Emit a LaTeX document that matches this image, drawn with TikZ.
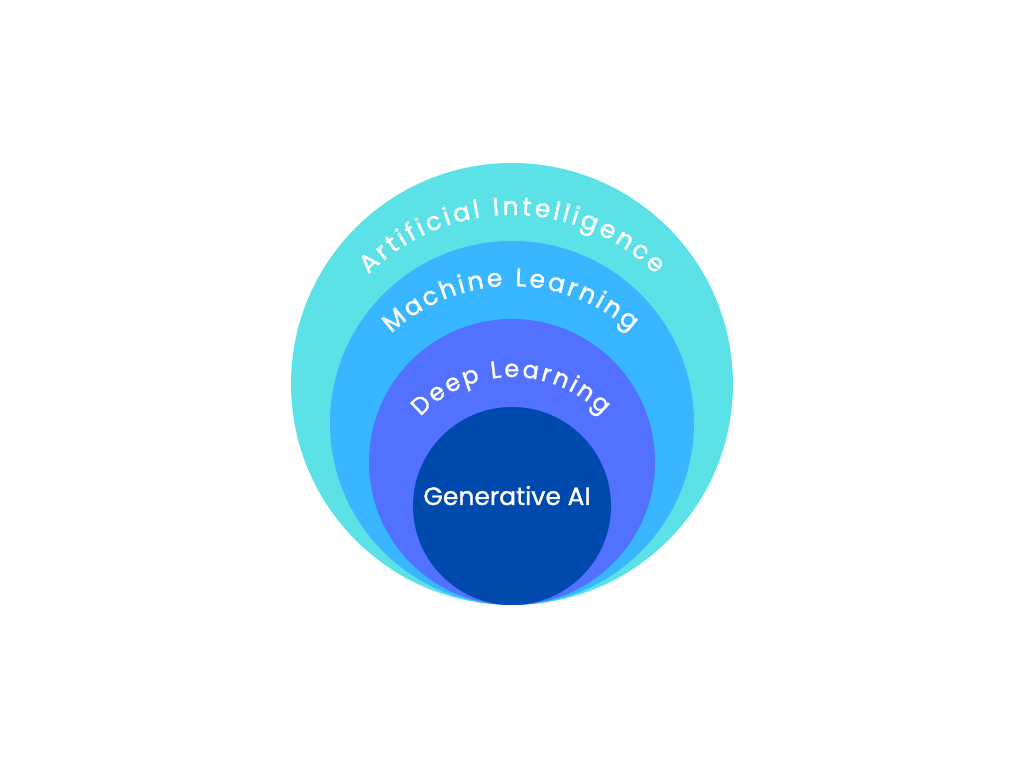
\documentclass[tikz,border=0pt]{standalone}
\usepackage{fontspec}
\newfontfamily\pop[FakeBold=1.2]{Poppins}
\usetikzlibrary{decorations.text}
\definecolor{cAI}{HTML}{5CE1E6}
\definecolor{cML}{HTML}{38B6FF}
\definecolor{cDL}{HTML}{5271FF}
\definecolor{cGA}{HTML}{004AAD}
\tikzset{
  ring/.style={draw=none},
  arclabel/.style={decorate, decoration={text along path, text align={fit to path}, text={#1}}},
}
\begin{document}
\begin{tikzpicture}[x=1pt,y=1pt]
\fill[white] (0,0) rectangle (1024,768);
\useasboundingbox (0,0) rectangle (1024,768);
% circles
\node[ring, circle, fill=cAI, minimum size=442pt, inner sep=0pt] (ai) at (512,384) {};
\node[ring, circle, fill=cML, minimum size=364pt, inner sep=0pt] (ml) at (512,345) {};
\node[ring, circle, fill=cDL, minimum size=286pt, inner sep=0pt] (dl) at (512,306) {};
\node[ring, circle, fill=cGA, minimum size=198pt, inner sep=0pt] (ga) at (512,262) {};
% curved labels
\coordinate (aic) at (512,350);
\coordinate (mlc) at (512,305);
\coordinate (dlc) at (512,266);
\path[arclabel={|\pop\fontsize{25}{25}\selectfont\color{white}|Artificial Intelligence}]
  (aic) ++(135:203pt) arc[start angle=135, end angle=45, radius=203pt];
\path[arclabel={|\pop\fontsize{25}{25}\selectfont\color{white}|Machine Learning}]
  (mlc) ++(133:177pt) arc[start angle=133, end angle=48, radius=177pt];
\path[arclabel={|\pop\fontsize{24}{24}\selectfont\color{white}|Deep Learning}]
  (dlc) ++(137:125pt) arc[start angle=137, end angle=44, radius=125pt];
% centre label
\node[anchor=base, text=white, font=\pop\fontsize{25}{25}\selectfont, inner sep=0pt] (galabel) at (507,263) {Generative AI};
\end{tikzpicture}
\end{document}
